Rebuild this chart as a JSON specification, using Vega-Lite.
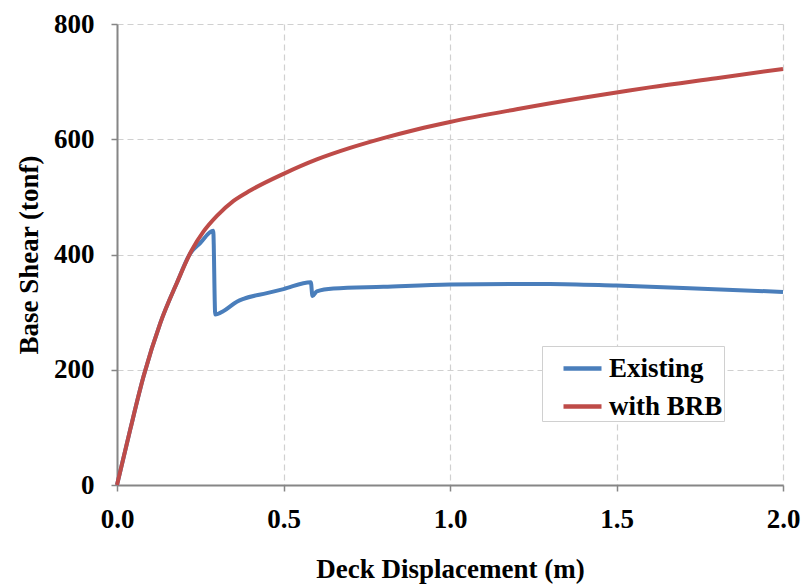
{
  "$schema": "https://vega.github.io/schema/vega-lite/v6.json",
  "width": 666,
  "height": 461,
  "autosize": "none",
  "padding": {"left": 117, "top": 24, "right": 20, "bottom": 100},
  "background": "white",
  "config": {
    "view": {"stroke": null},
    "font": "Liberation Serif, Times New Roman, DejaVu Serif, serif"
  },
  "data": {
    "values": [
      {"x": 0, "y": 0, "s": "Existing"},
      {"x": 0.04, "y": 97, "s": "Existing"},
      {"x": 0.08, "y": 189, "s": "Existing"},
      {"x": 0.13, "y": 281, "s": "Existing"},
      {"x": 0.18, "y": 351, "s": "Existing"},
      {"x": 0.22, "y": 402, "s": "Existing"},
      {"x": 0.25, "y": 420, "s": "Existing"},
      {"x": 0.289, "y": 441, "s": "Existing"},
      {"x": 0.295, "y": 296, "s": "Existing"},
      {"x": 0.32, "y": 302, "s": "Existing"},
      {"x": 0.36, "y": 318, "s": "Existing"},
      {"x": 0.38, "y": 323, "s": "Existing"},
      {"x": 0.45, "y": 333, "s": "Existing"},
      {"x": 0.5, "y": 340, "s": "Existing"},
      {"x": 0.582, "y": 352, "s": "Existing"},
      {"x": 0.587, "y": 328, "s": "Existing"},
      {"x": 0.6, "y": 336, "s": "Existing"},
      {"x": 0.65, "y": 341, "s": "Existing"},
      {"x": 0.8, "y": 344, "s": "Existing"},
      {"x": 1.0, "y": 348, "s": "Existing"},
      {"x": 1.2, "y": 349, "s": "Existing"},
      {"x": 1.3, "y": 349, "s": "Existing"},
      {"x": 1.5, "y": 346, "s": "Existing"},
      {"x": 1.7, "y": 342, "s": "Existing"},
      {"x": 2.0, "y": 335, "s": "Existing"},
      {"x": 0, "y": 0, "s": "with BRB"},
      {"x": 0.04, "y": 97, "s": "with BRB"},
      {"x": 0.08, "y": 189, "s": "with BRB"},
      {"x": 0.13, "y": 281, "s": "with BRB"},
      {"x": 0.18, "y": 351, "s": "with BRB"},
      {"x": 0.224, "y": 407, "s": "with BRB"},
      {"x": 0.26, "y": 440, "s": "with BRB"},
      {"x": 0.3, "y": 467, "s": "with BRB"},
      {"x": 0.35, "y": 493, "s": "with BRB"},
      {"x": 0.4, "y": 511, "s": "with BRB"},
      {"x": 0.5, "y": 540, "s": "with BRB"},
      {"x": 0.6, "y": 565, "s": "with BRB"},
      {"x": 0.7, "y": 585, "s": "with BRB"},
      {"x": 0.8, "y": 602, "s": "with BRB"},
      {"x": 0.9, "y": 617, "s": "with BRB"},
      {"x": 1.0, "y": 630, "s": "with BRB"},
      {"x": 1.2, "y": 652, "s": "with BRB"},
      {"x": 1.4, "y": 672, "s": "with BRB"},
      {"x": 1.5, "y": 681, "s": "with BRB"},
      {"x": 1.6, "y": 690, "s": "with BRB"},
      {"x": 1.8, "y": 706, "s": "with BRB"},
      {"x": 2.0, "y": 722, "s": "with BRB"}
    ]
  },
  "mark": {"type": "line", "strokeWidth": 4, "interpolate": "monotone"},
  "encoding": {
    "x": {
      "field": "x", "type": "quantitative",
      "scale": {"domain": [0, 2], "nice": false},
      "axis": {
        "title": "Deck Displacement (m)",
        "values": [0, 0.5, 1, 1.5, 2],
        "format": ".1f",
        "labelFlush": false,
        "labelFont": "Liberation Serif, Times New Roman, DejaVu Serif, serif", "labelFontWeight": "bold", "labelFontSize": 27, "labelColor": "black",
        "labelPadding": 15,
        "titleFont": "Liberation Serif, Times New Roman, DejaVu Serif, serif", "titleFontWeight": "bold", "titleFontSize": 27, "titleColor": "black",
        "titlePadding": 24,
        "domainColor": "#868686", "domainWidth": 2,
        "tickColor": "#868686", "tickWidth": 1.5, "tickSize": 6,
        "grid": true, "gridColor": "#d0d0d0", "gridDash": [6, 4], "gridWidth": 1.2
      }
    },
    "y": {
      "field": "y", "type": "quantitative",
      "scale": {"domain": [0, 800], "nice": false},
      "axis": {
        "title": "Base Shear (tonf)",
        "values": [0, 200, 400, 600, 800],
        "labelFlush": false,
        "labelFont": "Liberation Serif, Times New Roman, DejaVu Serif, serif", "labelFontWeight": "bold", "labelFontSize": 27, "labelColor": "black",
        "labelPadding": 17,
        "titleFont": "Liberation Serif, Times New Roman, DejaVu Serif, serif", "titleFontWeight": "bold", "titleFontSize": 27, "titleColor": "black",
        "titlePadding": 10,
        "domainColor": "#868686", "domainWidth": 2,
        "tickColor": "#868686", "tickWidth": 1.5, "tickSize": 6,
        "grid": true, "gridColor": "#d0d0d0", "gridDash": [6, 4], "gridWidth": 1.2
      }
    },
    "color": {
      "field": "s", "type": "nominal",
      "scale": {"domain": ["Existing", "with BRB"], "range": ["#4a7ebb", "#be4b48"]},
      "legend": {
        "title": null,
        "orient": "none",
        "legendX": 425,
        "legendY": 322,
        "symbolType": "stroke",
        "symbolSize": 1444,
        "symbolStrokeWidth": 4.5,
        "symbolOffset": 18,
        "labelFont": "Liberation Serif, Times New Roman, DejaVu Serif, serif", "labelFontWeight": "bold", "labelFontSize": 27, "labelColor": "black",
        "labelOffset": 5,
        "rowPadding": 3,
        "padding": 1,
        "strokeColor": "#d0d0d0",
        "fillColor": "white",
        "labelLimit": 300
      }
    }
  }
}
